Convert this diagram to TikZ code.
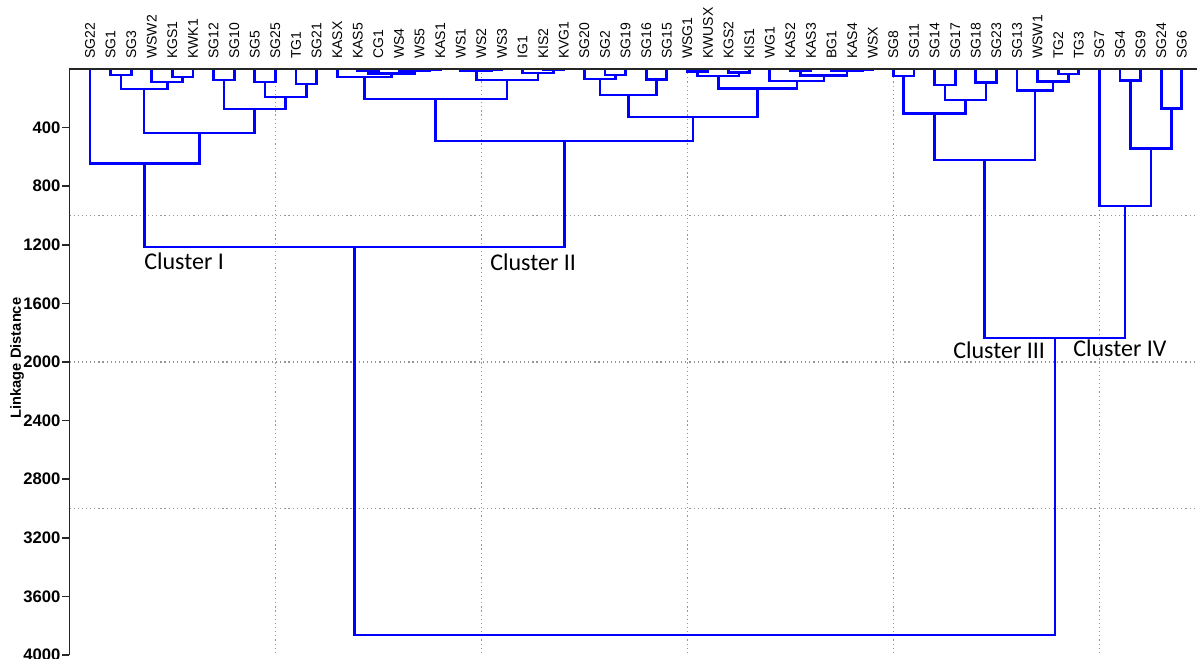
\documentclass[tikz,border=0pt]{standalone}
\usepackage{fontspec}
\setmainfont{Liberation Sans}
\newfontfamily\clusterfont{Carlito}

\definecolor{dendblue}{RGB}{0,0,255}
\definecolor{gridgray}{RGB}{150,150,150}

\tikzset{
  link/.style={draw=dendblue, line width=2pt},
  axisline/.style={draw=black!85, line width=1.1pt},
  gridline/.style={draw=gridgray, line width=0.8pt, dash pattern=on 0.9pt off 2.2pt},
  leaflab/.style={rotate=90, anchor=west, inner sep=0pt, font=\fontsize{10.5}{12}\selectfont},
  ticklab/.style={anchor=east, inner sep=1pt, font=\bfseries\fontsize{12.5}{14}\selectfont},
  clusterlab/.style={anchor=base west, inner sep=0pt, font=\clusterfont\fontsize{18}{20}\selectfont},
}

\begin{document}
\begin{tikzpicture}[x=0.75pt, y=-0.75pt]
\useasboundingbox (0,0) rectangle (1197,659);

\begin{scope}[shift={(69.4,69)}, x=15.45pt, y=-0.109875pt]
% grid
\foreach \g in {10,20,30,40,50}
  \path[gridline] (\g,0) -- (\g,4000);
\foreach \g in {1000,2000,3000}
  \path[gridline] (0,\g) -- (54.8,\g);

% leaves
\foreach \lab [count=\i] in {SG22,SG1,SG3,WSW2,KGS1,KWK1,SG12,SG10,SG5,SG25,TG1,SG21,
    KASX,KAS5,CG1,WS4,WS5,KAS1,WS1,WS2,WS3,IG1,KIS2,KVG1,SG20,SG2,SG19,SG16,SG15,
    WSG1,KWUSX,KGS2,KIS1,WG1,KAS2,KAS3,BG1,KAS4,WSX,SG8,SG11,SG14,SG17,SG18,SG23,
    SG13,WSW1,TG2,TG3,SG7,SG4,SG9,SG24,SG6} {
  \coordinate (\lab) at (\i,0);
  \node[leaflab] (t\lab) at ([yshift=7.5pt]\i,0) {\lab};
}

% merges: name / left / right / x / linkage distance
\foreach \nd/\ka/\kb/\px/\dd in {
    a1/SG1/SG3/2.5/41, a2/KGS1/KWK1/5.5/55, a3/WSW2/a2/4.75/89, a4/a1/a3/3.625/137,
    a5/SG12/SG10/7.5/75, a6/SG5/SG25/9.5/89, a7/TG1/SG21/11.5/102, a8/a6/a7/10.5/191,
    a9/a5/a8/9/273, a10/a4/a9/6.3125/437, a11/SG22/a10/3.65625/645,
    b1/WS5/KAS1/17.5/3, b2/WS4/b1/16.75/8, b3/KAS5/CG1/14.5/12, b4/b3/b2/15.625/30,
    b5/KASX/b4/14.3125/55, b6/WS2/WS3/20.5/4, b7/WS1/b6/19.75/13, b8/KIS2/KVG1/23.5/6,
    b9/IG1/b8/22.75/28, b10/b7/b9/21.25/75, b11/b5/b10/17.78125/205,
    b12/SG2/SG19/26.5/41, b13/SG20/b12/25.75/68, b14/SG16/SG15/28.5/70,
    b15/b13/b14/27.125/178, b16/WSG1/KWUSX/30.5/18, b17/KGS2/KIS1/32.5/25,
    b18/b16/b17/31.5/48, b19/KAS2/KAS3/35.5/10, b20/KAS4/WSX/38.5/5,
    b21/BG1/b20/37.75/12, b22/b19/b21/36.625/45, b23/WG1/b22/35.3125/82,
    b24/b18/b23/33.40625/132, b25/b15/b24/30.265625/328, b26/b11/b25/24.0234/491,
    c0/a11/b26/13.8398/1215,
    d1/SG8/SG11/40.5/48, d2/SG14/SG17/42.5/109, d3/SG18/SG23/44.5/93,
    d4/d2/d3/43.5/212, d5/d1/d4/42/302, d6/TG2/TG3/48.5/34, d7/WSW1/d6/47.75/87,
    d8/SG13/d7/46.875/148, d9/d5/d8/44.4375/621,
    e1/SG4/SG9/51.5/80, e2/SG24/SG6/53.5/268, e3/e1/e2/52.5/541, e4/SG7/e3/51.25/935,
    f0/d9/e4/47.8438/1836, root/c0/f0/30.8418/3863} {
  \coordinate (\nd) at (\px,\dd);
  \path[link] (\ka) |- (\nd) -| (\kb);
}

% axis
\path[axisline] (0,4000) -- (0,0) -- (54.8,0);
\foreach \t in {400,800,...,4000}
  \path[axisline] (0,\t) -- ++(-5.25pt,0pt) node[ticklab] {\t};
\end{scope}

\node[rotate=90, font=\bfseries\fontsize{11}{13}\selectfont] (ylab) at (17,358) {Linkage Distance};

\node[clusterlab] (cl1) at (144,270) {Cluster I};
\node[clusterlab] (cl2) at (490,271) {Cluster II};
\node[clusterlab] (cl3) at (953,359) {Cluster III};
\node[clusterlab] (cl4) at (1073,357) {Cluster IV};
\end{tikzpicture}
\end{document}
